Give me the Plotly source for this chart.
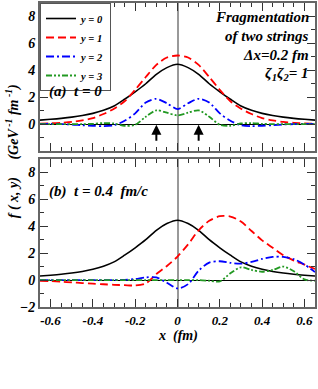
import plotly.graph_objects as go

# ---------------- data ----------------
x_grid = [-0.65, -0.6, -0.55, -0.5, -0.45, -0.4, -0.35, -0.3, -0.25, -0.2, -0.15, -0.1, -0.05, 0.0,
          0.05, 0.1, 0.15, 0.2, 0.25, 0.3, 0.35, 0.4, 0.45, 0.5, 0.55, 0.6, 0.65]

# panel (a) t = 0 (symmetric curves)
a_y0 = [0.30, 0.36, 0.43, 0.52, 0.64, 0.80, 1.03, 1.35, 1.85, 2.40, 3.00, 3.70, 4.20, 4.45,
        4.20, 3.70, 3.00, 2.40, 1.85, 1.35, 1.03, 0.80, 0.64, 0.52, 0.43, 0.36, 0.30]
a_y1 = [0.03, 0.06, 0.10, 0.16, 0.28, 0.45, 0.75, 1.15, 1.70, 2.55, 3.50, 4.40, 4.95, 5.10,
        4.95, 4.40, 3.50, 2.55, 1.70, 1.15, 0.75, 0.45, 0.28, 0.16, 0.10, 0.06, 0.03]
a_y2 = [0.02, 0.02, 0.00, -0.03, -0.08, -0.12, -0.15, -0.08, 0.25, 0.80, 1.60, 1.88, 1.55, 1.12,
        1.55, 1.88, 1.60, 0.80, 0.25, -0.08, -0.15, -0.12, -0.08, -0.03, 0.00, 0.02, 0.02]
a_y3 = [0.00, 0.00, 0.00, 0.00, 0.00, 0.02, 0.08, 0.05, -0.12, -0.05, 0.55, 1.02, 0.85, 0.65,
        0.85, 1.02, 0.55, -0.05, -0.12, 0.05, 0.08, 0.02, 0.00, 0.00, 0.00, 0.00, 0.00]

# panel (b) t = 0.4 fm/c
b_y0 = a_y0
b_y1 = [-0.05, -0.08, -0.12, -0.17, -0.22, -0.27, -0.31, -0.35, -0.38, -0.40, -0.25, 0.45, 1.05, 1.75,
        2.65, 3.70, 4.40, 4.75, 4.72, 4.35, 3.65, 2.95, 2.40, 1.85, 1.45, 1.15, 0.82]
b_y2 = [0.00, 0.00, 0.00, 0.00, 0.00, 0.00, 0.00, 0.00, 0.02, 0.08, 0.20, 0.20, -0.20, -0.62,
        -0.30, 0.70, 1.30, 1.40, 1.28, 1.22, 1.35, 1.57, 1.72, 1.72, 1.55, 1.15, 0.60]
b_y3 = [0.00, 0.00, 0.00, 0.00, 0.00, 0.00, 0.00, 0.00, 0.00, 0.00, 0.00, 0.00, 0.00, 0.00,
        0.00, 0.00, -0.05, -0.10, 0.50, 0.95, 0.75, 0.62, 0.75, 1.00, 0.65, 0.05, -0.05]

series_names = ["y = 0", "y = 1", "y = 2", "y = 3"]
x_tickvals = [-0.6, -0.4, -0.2, 0, 0.2, 0.4, 0.6]
x_ticktext = ["-0.6", "-0.4", "-0.2", "0", "0.2", "0.4", "0.6"]
top_y_ticks = [0, 2, 4, 6, 8]
bot_y_ticks = [-2, 0, 2, 4, 6, 8]
arrow_x = [-0.1, 0.1]

# ---------------- styling ----------------
FONT = "Liberation Serif"
colors = ["black", "#ff0000", "#0000ff", "#229922"]
dashes = ["solid", "8px,4px", "8px,3px,2px,3px", "6px,2px,2px,2px,2px,2px"]
widths = [1.6, 1.8, 1.8, 1.8]

fig = go.Figure()
for i, yv in enumerate([a_y0, a_y1, a_y2, a_y3]):
    fig.add_trace(go.Scatter(x=x_grid, y=yv, mode="lines", name=series_names[i],
                             line=dict(color=colors[i], dash=dashes[i], width=widths[i], shape="spline", smoothing=0.8),
                             xaxis="x2", yaxis="y2", showlegend=True))
for i, yv in enumerate([b_y0, b_y1, b_y2, b_y3]):
    fig.add_trace(go.Scatter(x=x_grid, y=yv, mode="lines", name=series_names[i],
                             line=dict(color=colors[i], dash=dashes[i], width=widths[i], shape="spline", smoothing=0.8),
                             xaxis="x", yaxis="y", showlegend=False))

tickfont = dict(family=FONT, size=14, color="black", weight="bold", style="italic")
common_x = dict(range=[-0.65, 0.65], showline=True, linecolor="#666", linewidth=2, mirror="allticks",
                ticks="inside", ticklen=8, tickwidth=1.2, tickcolor="#333",
                tickvals=x_tickvals, ticktext=x_ticktext,
                minor=dict(ticks="inside", ticklen=4, tickwidth=1, tickcolor="#333", tick0=0, dtick=0.05),
                showgrid=False, zeroline=True, zerolinecolor="#999", zerolinewidth=2,
                tickfont=dict(family=FONT, size=13, color="black", weight="bold", style="italic"))
common_y = dict(range=[-2, 9], showline=True, linecolor="#666", linewidth=2, mirror="allticks",
                ticks="inside", ticklen=8, tickwidth=1.2, tickcolor="#333",
                minor=dict(ticks="inside", ticklen=4, tickwidth=1, tickcolor="#333", tick0=0, dtick=1),
                showgrid=False, zeroline=True, zerolinecolor="black", zerolinewidth=1,
                tickfont=tickfont)

fig.update_layout(
    width=318, height=389,
    margin=dict(l=40, r=1, t=1, b=82),
    paper_bgcolor="white", plot_bgcolor="white",
    xaxis=dict(**common_x, domain=[0, 1], anchor="y", showticklabels=True),
    yaxis=dict(**common_y, domain=[0, 0.487], anchor="x", tickvals=bot_y_ticks),
    xaxis2=dict(**common_x, domain=[0, 1], anchor="y2", matches="x", showticklabels=False),
    yaxis2=dict(**common_y, domain=[0.513, 1], anchor="x2", tickvals=top_y_ticks),
    legend=dict(x=0, y=1, xanchor="left", yanchor="top", bgcolor="white",
                bordercolor="#555", borderwidth=1,
                font=dict(family=FONT, size=10.5, color="black", weight="bold", style="italic"),
                tracegroupgap=0),
    showlegend=True,
)

afont = dict(family=FONT, size=15, color="black", weight="bold", style="italic")
texts = [("Fragmentation", 0.954), ("of two strings", 0.892), ("Δx=0.2 fm", 0.830),
         ("ζ<sub>1</sub>ζ<sub>2</sub>= 1", 0.766)]
for t, yy in texts:
    fig.add_annotation(text=t, xref="paper", yref="paper", x=0.986, y=yy, xanchor="right", yanchor="middle",
                       showarrow=False, font=afont)

fig.add_annotation(text="(a)  t = 0", xref="paper", yref="paper", x=0.025, y=0.709, xanchor="left",
                   yanchor="middle", showarrow=False, font=afont)
fig.add_annotation(text="(b)  t = 0.4  fm/c", xref="paper", yref="paper", x=0.025, y=0.379, xanchor="left",
                   yanchor="middle", showarrow=False, font=afont)
fig.add_annotation(text="x  (fm)", xref="paper", yref="paper", x=0.5, y=-0.096, xanchor="center",
                   yanchor="middle", showarrow=False,
                   font=dict(family=FONT, size=14, color="black", weight="bold", style="italic"))
fig.add_annotation(text="f ( x, y)     (GeV<sup> -1</sup> fm<sup> -1</sup>)", xref="paper", yref="paper",
                   x=-0.101, y=0.513, xanchor="center", yanchor="middle", textangle=-90,
                   showarrow=False, font=dict(family=FONT, size=14, color="black", weight="bold", style="italic"))

for xa in arrow_x:
    fig.add_annotation(x=xa, y=-0.05, ax=xa, ay=-1.35, xref="x2", yref="y2", axref="x2", ayref="y2",
                       text="", showarrow=True, arrowhead=2, arrowsize=1, arrowwidth=2, arrowcolor="black")

fig.write_html("out.html", config={"displayModeBar": False},
               post_script="document.body.style.margin='0px';document.body.style.overflow='hidden';")
